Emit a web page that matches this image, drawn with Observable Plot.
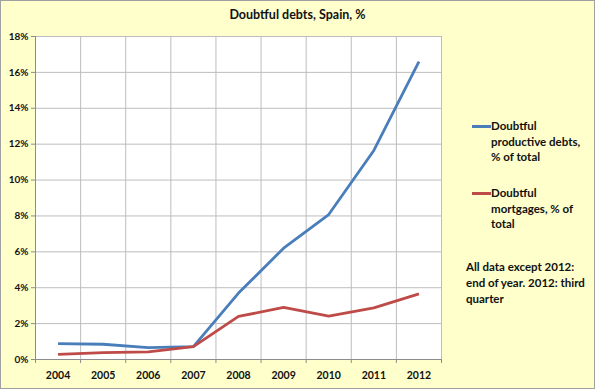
<!DOCTYPE html>
<html><head><meta charset="utf-8">
<script src="https://cdn.jsdelivr.net/npm/d3@7"></script>
<script src="https://cdn.jsdelivr.net/npm/@observablehq/plot@0.6"></script>
<style>
body{margin:0;}
#chart{position:relative;width:595px;height:389px;background:#FFFFCC;font-family:Lato,"Noto Sans",sans-serif;font-weight:bold;color:#111;overflow:hidden;}
#chart svg{position:absolute;left:0;top:0;background:transparent;}
#border{position:absolute;left:0;top:0;width:595px;height:389px;box-sizing:border-box;border:1px solid #a0a0a0;pointer-events:none;}
#title{position:absolute;left:0;width:595px;top:7px;text-align:center;font-size:12.5px;}
.leg{position:absolute;font-size:11.5px;line-height:15.6px;}
.sw{position:absolute;width:19px;height:3px;}
#note{position:absolute;left:466px;top:259px;font-size:11.5px;line-height:16px;width:125px;}
</style></head>
<body>
<div id="chart">
  <div id="title">Doubtful debts, Spain, %</div>
  <div id="legend"></div>
  <div id="note">All data except 2012: end of year. 2012: third quarter</div>
  <div id="border"></div>
</div>
<script>
const years = [2004, 2005, 2006, 2007, 2008, 2009, 2010, 2011, 2012];
const productiveDebts = [0.89, 0.85, 0.66, 0.72, 3.7, 6.2, 8.08, 11.65, 16.6];
const mortgages = [0.28, 0.38, 0.42, 0.72, 2.4, 2.9, 2.42, 2.88, 3.66];
const seriesNames = ["Doubtful productive debts, % of total", "Doubtful mortgages, % of total"];
const seriesColors = ["#4A7EBB", "#BE4B48"];
const yTicks = [0, 2, 4, 6, 8, 10, 12, 14, 16, 18];

const data = [];
years.forEach((y, i) => {
  data.push({year: y, value: productiveDebts[i], series: seriesNames[0]});
  data.push({year: y, value: mortgages[i], series: seriesNames[1]});
});
const bounds = d3.range(years[0] - 0.5, years[years.length - 1] + 1, 1);

const plot = Plot.plot({
  width: 595,
  height: 389,
  marginLeft: 35,
  marginRight: 154,
  marginTop: 36,
  marginBottom: 30,
  style: {background: "transparent", fontFamily: "Lato, 'Noto Sans', sans-serif"},
  x: {type: "linear", domain: [years[0] - 0.5, years[years.length - 1] + 0.5], label: null},
  y: {domain: [0, 18], label: null},
  color: {domain: seriesNames, range: seriesColors},
  marks: [
    Plot.frame({fill: "white", stroke: null}),
    Plot.ruleY(yTicks.filter(d => d > 0), {stroke: "#bdbdbd", strokeWidth: 1}),
    Plot.ruleX(bounds.slice(1), {stroke: "#bdbdbd", strokeWidth: 1}),
    Plot.ruleY([0], {stroke: "#8c8c8c"}),
    Plot.ruleX([bounds[0]], {stroke: "#8c8c8c"}),
    Plot.axisY({ticks: yTicks, tickFormat: d => d + "%", tickSize: 4, tickPadding: 3, stroke: "#8c8c8c", fontSize: 10, fontWeight: "bold", fill: "#111", label: null}),
    Plot.axisX({ticks: bounds, tickFormat: () => "", tickSize: 4, stroke: "#8c8c8c", label: null}),
    Plot.axisX({ticks: years, tickFormat: d => String(d), tickSize: 0, tickPadding: 12, fontSize: 10.5, fontWeight: "bold", fill: "#111", label: null}),
    Plot.line(data, {x: "year", y: "value", z: "series", stroke: "series", strokeWidth: 2.8, strokeLinejoin: "round", strokeLinecap: "butt"})
  ]
});
document.getElementById("chart").insertBefore(plot, document.getElementById("title"));

const legendLines = [["Doubtful", "productive debts,", "% of total"], ["Doubtful", "mortgages, % of", "total"]];
const legTops = [118, 185];
const leg = document.getElementById("legend");
legendLines.forEach((lines, i) => {
  const sw = document.createElement("div");
  sw.className = "sw";
  sw.style.left = "472px";
  sw.style.top = (legTops[i] + 7) + "px";
  sw.style.background = seriesColors[i];
  leg.appendChild(sw);
  const t = document.createElement("div");
  t.className = "leg";
  t.style.left = "491px";
  t.style.top = legTops[i] + "px";
  t.innerHTML = lines.join("<br>");
  leg.appendChild(t);
});
</script>
</body></html>
